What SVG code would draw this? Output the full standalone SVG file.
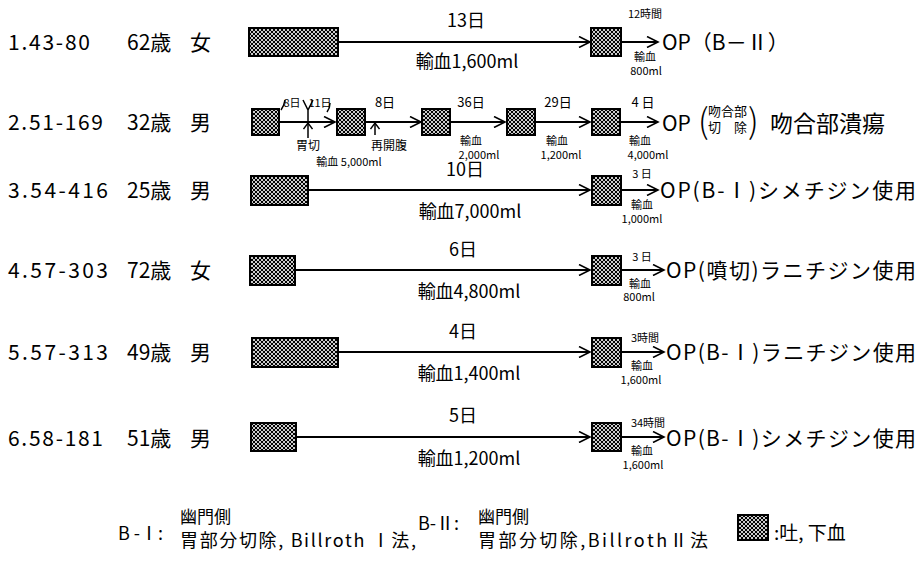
<svg xmlns="http://www.w3.org/2000/svg" width="921" height="561" viewBox="0 0 921 561">
<defs>
<pattern id="dots" width="4" height="4" patternUnits="userSpaceOnUse">
<rect width="4" height="4" fill="#fff"/>
<circle cx="0" cy="0" r="1.25" fill="#000"/>
<circle cx="4" cy="0" r="1.25" fill="#000"/>
<circle cx="0" cy="4" r="1.25" fill="#000"/>
<circle cx="4" cy="4" r="1.25" fill="#000"/>
<circle cx="2" cy="2" r="1.25" fill="#000"/>
</pattern>
<marker id="chev" markerWidth="14" markerHeight="12" refX="12" refY="6" orient="auto" markerUnits="userSpaceOnUse">
<path d="M1,0.5 L12,6 L1,11.5" fill="none" stroke="#000" stroke-width="1.6"/>
</marker>
<marker id="up" markerWidth="10" markerHeight="10" refX="5" refY="1" orient="0" markerUnits="userSpaceOnUse">
<path d="M0.5,7 L5,1 L9.5,7" fill="none" stroke="#000" stroke-width="1.4"/>
</marker>
</defs>
<style>
text{font-family:"Noto Sans CJK JP","Noto Sans",sans-serif;fill:#000}
.lab{font-size:21px}
.day{font-size:18px}
.sm{font-size:11px}
.op{font-size:21px}
.box{fill:url(#dots);stroke:#000;stroke-width:2}
.ln{stroke:#000;stroke-width:1.8;fill:none;marker-end:url(#chev)}
.thin{stroke:#000;stroke-width:1.5;fill:none}
</style>
<rect width="921" height="561" fill="#fff"/>

<g id="labels">
<text class="lab" x="8" y="50" textLength="82">1.43-80</text>
<text class="lab" x="127" y="50">62歳</text>
<text class="lab" x="190" y="50">女</text>
<text class="lab" x="8" y="130" textLength="95">2.51-169</text>
<text class="lab" x="127" y="130">32歳</text>
<text class="lab" x="190" y="130">男</text>
<text class="lab" x="8" y="198" textLength="100">3.54-416</text>
<text class="lab" x="127" y="198">25歳</text>
<text class="lab" x="190" y="198">男</text>
<text class="lab" x="8" y="278" textLength="100">4.57-303</text>
<text class="lab" x="127" y="278">72歳</text>
<text class="lab" x="190" y="278">女</text>
<text class="lab" x="8" y="360" textLength="100">5.57-313</text>
<text class="lab" x="127" y="360">49歳</text>
<text class="lab" x="190" y="360">男</text>
<text class="lab" x="8" y="446" textLength="95">6.58-181</text>
<text class="lab" x="127" y="446">51歳</text>
<text class="lab" x="190" y="446">男</text>
</g>

<g id="connectors">
<line class="ln" x1="338" y1="42" x2="590" y2="42"/>
<line class="ln" x1="621" y1="42" x2="658" y2="42"/>
<line class="ln" x1="279" y1="122" x2="335" y2="122"/>
<line class="ln" x1="365" y1="122" x2="421" y2="122"/>
<line class="ln" x1="450" y1="122" x2="505" y2="122"/>
<line class="ln" x1="535" y1="122" x2="590" y2="122"/>
<line class="ln" x1="620" y1="122" x2="658" y2="122"/>
<line class="ln" x1="308" y1="190" x2="590" y2="190"/>
<line class="ln" x1="621" y1="190" x2="658" y2="190"/>
<line class="ln" x1="295" y1="270" x2="590" y2="270"/>
<line class="ln" x1="621" y1="270" x2="664" y2="270"/>
<line class="ln" x1="338" y1="352" x2="590" y2="352"/>
<line class="ln" x1="621" y1="352" x2="664" y2="352"/>
<line class="ln" x1="296" y1="437" x2="590" y2="437"/>
<line class="ln" x1="621" y1="437" x2="664" y2="437"/>
<path class="thin" d="M285,100 Q284,106 281,110"/>
<path class="thin" d="M303,100 L308,110 L313,100 M308,110 L308,122"/>
<path class="thin" d="M330,103 Q330,108 327,112"/>
<line class="thin" x1="308" y1="138" x2="308" y2="123" marker-end="url(#up)"/>
<line class="thin" x1="375" y1="135" x2="375" y2="123" marker-end="url(#up)"/>
</g>

<g id="row1">
<rect class="box" x="249" y="28" width="89" height="28"/>
<rect class="box" x="591" y="28" width="30" height="28"/>
<text class="day" x="466" y="27" text-anchor="middle">13日</text>
<text class="day" x="467" y="68" text-anchor="middle">輸血1,600ml</text>
<text class="sm" x="645" y="18" text-anchor="middle">12時間</text>
<text class="sm" x="645" y="61" text-anchor="middle">輸血</text>
<text class="sm" x="646" y="75" text-anchor="middle">800ml</text>
<text class="op" x="662" y="50">OP（B－Ⅱ）</text>
</g>

<g id="row2">
<rect class="box" x="252" y="109" width="27" height="26"/>
<rect class="box" x="337" y="109" width="28" height="26"/>
<rect class="box" x="422" y="109" width="28" height="26"/>
<rect class="box" x="507" y="109" width="28" height="26"/>
<rect class="box" x="592" y="109" width="28" height="26"/>
<text class="sm" x="292" y="107" text-anchor="middle">8日</text>
<text class="sm" x="320" y="107" text-anchor="middle">11日</text>
<text x="385" y="107" text-anchor="middle" style="font-size:13px">8日</text>
<text x="471" y="107" text-anchor="middle" style="font-size:13px">36日</text>
<text x="558" y="107" text-anchor="middle" style="font-size:13px">29日</text>
<text x="643" y="107" text-anchor="middle" style="font-size:13px">4 日</text>
<text x="308" y="150" text-anchor="middle" style="font-size:12px">胃切</text>
<text x="389" y="150" text-anchor="middle" style="font-size:12px">再開腹</text>
<text class="sm" x="349" y="166" text-anchor="middle">輸血 5,000ml</text>
<text class="sm" x="471" y="145" text-anchor="middle">輸血</text>
<text class="sm" x="479" y="159" text-anchor="middle">2,000ml</text>
<text class="sm" x="557" y="145" text-anchor="middle">輸血</text>
<text class="sm" x="561" y="159" text-anchor="middle">1,200ml</text>
<text class="sm" x="640" y="145" text-anchor="middle">輸血</text>
<text class="sm" x="648" y="159" text-anchor="middle">4,000ml</text>
<text class="op" x="662" y="131">OP</text>
<text x="698" y="133" style="font-size:34px;font-weight:300">(</text>
<text x="708" y="116" style="font-size:13px">吻合部</text>
<text x="708" y="132" style="font-size:13px">切</text>
<text x="734" y="132" style="font-size:13px">除</text>
<text x="748" y="133" style="font-size:34px;font-weight:300">)</text>
<text x="770" y="132" style="font-size:23px">吻合部潰瘍</text>
</g>

<g id="row3">
<rect class="box" x="251" y="176" width="57" height="29"/>
<rect class="box" x="592" y="176" width="29" height="29"/>
<text class="day" x="465" y="176" text-anchor="middle">10日</text>
<text class="day" x="470" y="218" text-anchor="middle">輸血7,000ml</text>
<text class="sm" x="642" y="178" text-anchor="middle">3 日</text>
<text class="sm" x="642" y="209" text-anchor="middle">輸血</text>
<text class="sm" x="642" y="223" text-anchor="middle">1,000ml</text>
<text class="op" x="660" y="198" textLength="256">OP(B-Ⅰ)シメチジン使用</text>
</g>

<g id="row4">
<rect class="box" x="250" y="256" width="45" height="29"/>
<rect class="box" x="592" y="256" width="29" height="29"/>
<text class="day" x="463" y="256" text-anchor="middle">6日</text>
<text class="day" x="469" y="298" text-anchor="middle">輸血4,800ml</text>
<text class="sm" x="642" y="261" text-anchor="middle">3 日</text>
<text class="sm" x="640" y="288" text-anchor="middle">輸血</text>
<text class="sm" x="639" y="301" text-anchor="middle">800ml</text>
<text class="op" x="666" y="278" textLength="250">OP(噴切)ラニチジン使用</text>
</g>

<g id="row5">
<rect class="box" x="252" y="338" width="86" height="29"/>
<rect class="box" x="592" y="338" width="29" height="29"/>
<text class="day" x="463" y="338" text-anchor="middle">4日</text>
<text class="day" x="469" y="380" text-anchor="middle">輸血1,400ml</text>
<text class="sm" x="645" y="342" text-anchor="middle">3時間</text>
<text class="sm" x="642" y="370" text-anchor="middle">輸血</text>
<text class="sm" x="641" y="384" text-anchor="middle">1,600ml</text>
<text class="op" x="666" y="360" textLength="250">OP(B-Ⅰ)ラニチジン使用</text>
</g>

<g id="row6">
<rect class="box" x="251" y="423" width="45" height="28"/>
<rect class="box" x="592" y="423" width="29" height="28"/>
<text class="day" x="463" y="422" text-anchor="middle">5日</text>
<text class="day" x="469" y="465" text-anchor="middle">輸血1,200ml</text>
<text class="sm" x="648" y="427" text-anchor="middle">34時間</text>
<text class="sm" x="642" y="455" text-anchor="middle">輸血</text>
<text class="sm" x="643" y="469" text-anchor="middle">1,600ml</text>
<text class="op" x="666" y="446" textLength="250">OP(B-Ⅰ)シメチジン使用</text>
</g>

<g id="legend">
<text x="118" y="540" style="font-size:18px">B -Ⅰ:</text>
<text x="180" y="523" style="font-size:17px">幽門側</text>
<text x="180" y="547" style="font-size:18px" textLength="236">胃部分切除, Billroth Ⅰ法,</text>
<text x="418" y="530" style="font-size:18px">B-Ⅱ:</text>
<text x="478" y="523" style="font-size:17px">幽門側</text>
<text x="478" y="547" style="font-size:18px" textLength="230">胃部分切除,BillrothⅡ法</text>
<rect class="box" x="738" y="515" width="30" height="25"/>
<text x="774" y="540" style="font-size:19px">:吐, 下血</text>
</g>
</svg>
